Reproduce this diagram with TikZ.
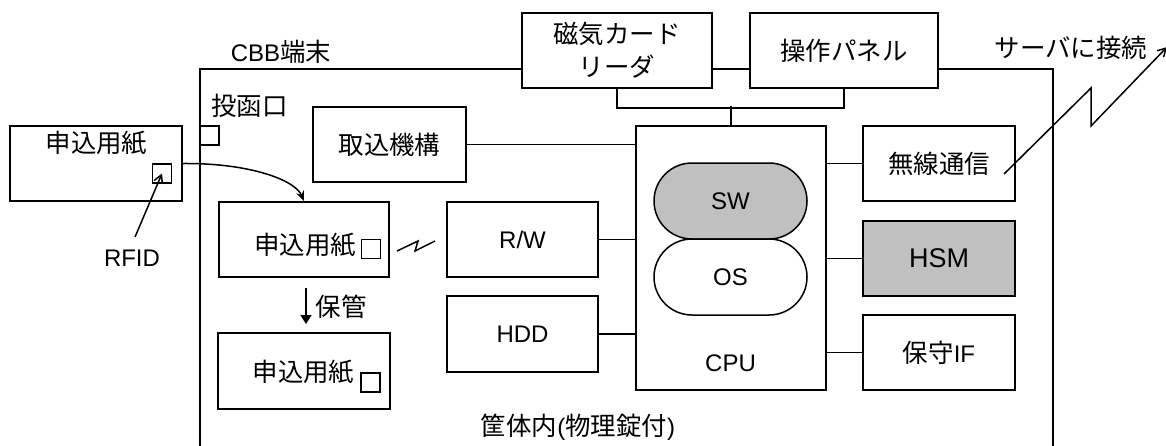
\documentclass[tikz,border=0pt]{standalone}
\usepackage{fontspec}
\setmainfont{Liberation Sans}
\newfontfamily\jp[Scale=1.06]{Noto Sans CJK JP}
\usetikzlibrary{arrows.meta,shapes.misc}
\definecolor{boxgray}{HTML}{C0C0C0}
\begin{document}
\begin{tikzpicture}[x=1pt,y=-1pt,
  txt/.style={inner sep=0pt, font=\fontsize{24}{33}\selectfont},
  box/.style={txt, draw, line width=1.9pt, fill=white, anchor=center},
  gbox/.style={box, fill=boxgray},
  pill/.style={txt, rounded rectangle, draw, line width=1.5pt, minimum width=153pt, minimum height=76pt},
  conn/.style={line width=1.5pt},
  tag/.style={draw, line width=1.6pt, fill=white, minimum size=19pt, inner sep=0pt}
]
\useasboundingbox (0,0) rectangle (1166,445);
\clip (0,0) rectangle (1166,445);
% housing
\draw[line width=1.9pt] (200,470) |- (1053,69) -- (1053,470);
\node[txt] (cbb) at (281,52) {CBB{\jp 端末}};
\node[txt] (slotlbl) at (249.5,106) {\jp 投函口};
\node[tag] (slot) at (209.5,135.5) {};
% top boxes
\node[box, minimum width=190pt, minimum height=75pt, align=center] (card) at (617,50.5) {{\jp 磁気カード}\\{\jp リーダ}};
\node[box, minimum width=188pt, minimum height=75pt] (panel) at (844,50.5) {\jp 操作パネル};
% papers
\node[box, minimum width=172pt, minimum height=75pt] (p1) at (96,163.5) {};
\node[txt] (p1t) at (96.5,143.5) {\jp 申込用紙};
\node[tag] (p1tag) at (162,173.5) {};
\node[box, minimum width=170pt, minimum height=75pt] (p2) at (304,239.5) {};
\node[txt] (p2t) at (305,245) {\jp 申込用紙};
\node[tag] (p2tag) at (371,249) {};
\node[box, minimum width=172pt, minimum height=76pt] (p3) at (304,371) {};
\node[txt] (p3t) at (303.5,372.5) {\jp 申込用紙};
\node[tag] (p3tag) at (370.5,382.5) {};
\node[txt] (rfid) at (132,258) {RFID};
\node[txt] (keep) at (341,307) {\jp 保管};
% middle boxes
\node[box, minimum width=153pt, minimum height=75pt] (intake) at (389.5,144.5) {\jp 取込機構};
\node[box, minimum width=151pt, minimum height=75pt] (rw) at (522.5,239.5) {R/W};
\node[box, minimum width=151pt, minimum height=76pt] (hdd) at (522.5,334) {HDD};
% cpu
\node[box, minimum width=190pt, minimum height=264pt] (cpu) at (731,258) {};
\node[txt] (cpulbl) at (730.5,363) {CPU};
\node[pill, fill=boxgray] (sw) at (730.5,201) {SW};
\node[pill, fill=white] (os) at (730.5,277) {OS};
% right column
\node[box, minimum width=152pt, minimum height=75pt] (wl) at (939,163.5) {\jp 無線通信};
\node[gbox, minimum width=152pt, minimum height=75pt, font=\fontsize{27}{30}\selectfont] (hsm) at (939,258.5) {HSM};
\node[box, minimum width=152pt, minimum height=75pt] (mt) at (939,352.5) {{\jp 保守}IF};
% labels
\node[txt] (case) at (578,427) {{\jp 筐体内}({\jp 物理錠付})};
\node[txt] (srvlbl) at (1071,48) {\jp サーバに接続};
% bus to top boxes
\draw[conn] (card.south) -- ++(0,19) -| (panel.south);
\draw[conn] (cpu.north) -- ++(0,-19);
% connectors to cpu
\draw[conn] (intake.east) -- (intake.east -| cpu.west);
\draw[conn] (rw.east) -- (rw.east -| cpu.west);
\draw[conn] (hdd.east) -- (hdd.east -| cpu.west);
\draw[conn] (wl.west -| cpu.east) -- (wl.west);
\draw[conn] (hsm.west -| cpu.east) -- (hsm.west);
\draw[conn] (mt.west -| cpu.east) -- (mt.west);
% paper flow
\draw[conn, -{Stealth[length=10pt,width=8pt]}] (p1.east) .. controls (250,163) and (295,180) .. (p2.north);
\coordinate (ka) at (306,288);
\coordinate (kb) at (306,324);
\draw[conn, -{Triangle[length=9pt,width=11pt]}] (ka) -- (kb);
\coordinate (rfa) at (135,237);
\draw[conn, -{Straight Barb[length=8pt,width=9pt]}] (rfa) -- (p1tag.center);
% wireless tag link
\draw[conn] (397,251) -- (418,241) -- (415,251) -- (435,241);
% server link
\coordinate (ls) at (1004,174);
\coordinate (srv) at (1167,47);
\draw[conn, -{Straight Barb[length=8pt,width=9pt]}] (ls) -- (1091,88) -- (1091,126) -- (srv);
\end{tikzpicture}
\end{document}
